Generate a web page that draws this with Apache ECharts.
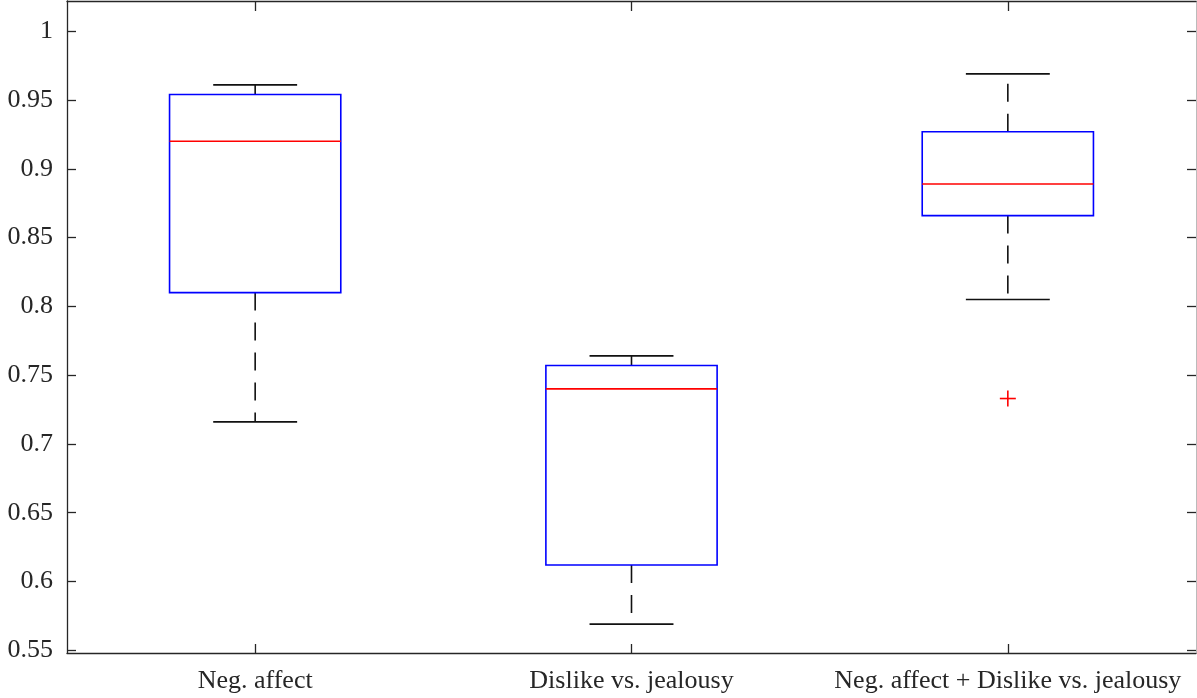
<!DOCTYPE html>
<html>
<head>
<meta charset="utf-8">
<script src="https://cdn.jsdelivr.net/npm/echarts@6/dist/echarts.min.js"></script>
<style>
html,body{margin:0;padding:0;background:#fff;}
#chart{width:1197px;height:698px;}
</style>
</head>
<body>
<div id="chart"></div>
<script>
var categories = ['Neg. affect', 'Dislike vs. jealousy', 'Neg. affect + Dislike vs. jealousy'];
var lowerWhisker = [0.716, 0.569, 0.805];
var q1 = [0.810, 0.612, 0.866];
var medians = [0.920, 0.740, 0.889];
var q3 = [0.954, 0.757, 0.927];
var upperWhisker = [0.961, 0.764, 0.969];
var outliers = [[2, 0.733]];
var yTicks = [0.55, 0.6, 0.65, 0.7, 0.75, 0.8, 0.85, 0.9, 0.95, 1];
var yTickLabels = ['0.55', '0.6', '0.65', '0.7', '0.75', '0.8', '0.85', '0.9', '0.95', '1'];

var boxData = categories.map(function (c, i) {
  return [i, lowerWhisker[i], q1[i], medians[i], q3[i], upperWhisker[i]];
});

var axisColor = '#262626';
var font = 'Liberation Serif';

function renderBox(params, api) {
  var i = api.value(0);
  var bw = api.size([1, 0])[0] * 0.455;
  var cw = api.size([1, 0])[0] * 0.223;
  var pLo = api.coord([i, api.value(1)]);
  var pQ1 = api.coord([i, api.value(2)]);
  var pMed = api.coord([i, api.value(3)]);
  var pQ3 = api.coord([i, api.value(4)]);
  var pHi = api.coord([i, api.value(5)]);
  var x = pQ1[0];
  var whiskerStyle = {stroke: '#111', lineWidth: 1.6, lineDash: [18, 12]};
  var capStyle = {stroke: '#111', lineWidth: 1.6};
  return {
    type: 'group',
    children: [
      {type: 'line', shape: {x1: x, y1: pQ3[1], x2: x, y2: pHi[1]}, style: whiskerStyle},
      {type: 'line', shape: {x1: x, y1: pQ1[1], x2: x, y2: pLo[1]}, style: whiskerStyle},
      {type: 'line', shape: {x1: x - cw / 2, y1: pHi[1], x2: x + cw / 2, y2: pHi[1]}, style: capStyle},
      {type: 'line', shape: {x1: x - cw / 2, y1: pLo[1], x2: x + cw / 2, y2: pLo[1]}, style: capStyle},
      {type: 'rect', shape: {x: x - bw / 2, y: pQ3[1], width: bw, height: pQ1[1] - pQ3[1]},
        style: {fill: 'none', stroke: '#0000ff', lineWidth: 1.6}},
      {type: 'line', shape: {x1: x - bw / 2, y1: pMed[1], x2: x + bw / 2, y2: pMed[1]},
        style: {stroke: '#ff0000', lineWidth: 1.6}}
    ]
  };
}

function renderOutlier(params, api) {
  var p = api.coord([api.value(0), api.value(1)]);
  var s = 8;
  return {
    type: 'group',
    children: [
      {type: 'line', shape: {x1: p[0] - s, y1: p[1], x2: p[0] + s, y2: p[1]}, style: {stroke: '#ff0000', lineWidth: 1.6}},
      {type: 'line', shape: {x1: p[0], y1: p[1] - s, x2: p[0], y2: p[1] + s}, style: {stroke: '#ff0000', lineWidth: 1.6}}
    ]
  };
}

var chart = echarts.init(document.getElementById('chart'), null, {renderer: 'canvas'});
var yMin = 0.548, yMax = 1.022;
chart.setOption({
  animation: false,
  backgroundColor: '#fff',
  grid: {left: 67, right: 1, top: 1, bottom: 45, containLabel: false},
  xAxis: [{
    type: 'category', data: categories, position: 'bottom',
    boundaryGap: true,
    axisLine: {show: true, lineStyle: {color: axisColor, width: 1.3}},
    axisTick: {show: true, inside: true, length: 9, alignWithLabel: true, interval: 0, lineStyle: {color: axisColor, width: 1.3}},
    axisLabel: {color: axisColor, fontFamily: font, fontSize: 26, margin: 15, interval: 0, hideOverlap: false},
    splitLine: {show: false}
  }, {
    type: 'category', data: categories, position: 'top',
    boundaryGap: true,
    axisLine: {show: true, onZero: false, lineStyle: {color: axisColor, width: 1.3}},
    axisTick: {show: true, inside: true, length: 10, alignWithLabel: true, interval: 0, lineStyle: {color: axisColor, width: 1.3}},
    axisLabel: {show: false},
    splitLine: {show: false}
  }],
  yAxis: [{
    type: 'value', min: yMin, max: yMax, position: 'left',
    axisLine: {show: true, lineStyle: {color: axisColor, width: 1.3}},
    axisTick: {show: true, inside: true, length: 9, customValues: yTicks, lineStyle: {color: axisColor, width: 1.3}},
    axisLabel: {color: axisColor, fontFamily: font, fontSize: 26, margin: 14, customValues: yTicks,
      formatter: function (v) {
        for (var k = 0; k < yTicks.length; k++) { if (Math.abs(yTicks[k] - v) < 1e-9) return yTickLabels[k]; }
        return '';
      }},
    splitLine: {show: false}
  }, {
    type: 'value', min: yMin, max: yMax, position: 'right',
    axisLine: {show: true, onZero: false, lineStyle: {color: '#bbbbbb', width: 1}},
    axisTick: {show: true, inside: true, length: 9, customValues: yTicks, lineStyle: {color: axisColor, width: 1.3}},
    axisLabel: {show: false},
    splitLine: {show: false}
  }],
  series: [{
    type: 'custom', xAxisIndex: 0, yAxisIndex: 0,
    renderItem: renderBox,
    encode: {x: 0, y: [1, 2, 3, 4, 5]},
    data: boxData,
    silent: true
  }, {
    type: 'custom', xAxisIndex: 0, yAxisIndex: 0,
    renderItem: renderOutlier,
    encode: {x: 0, y: 1},
    data: outliers,
    silent: true
  }]
});
</script>
</body>
</html>
